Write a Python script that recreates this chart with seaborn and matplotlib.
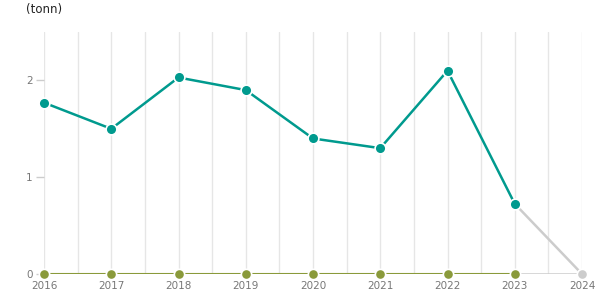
import matplotlib
matplotlib.use("Agg")
import matplotlib.pyplot as plt
import seaborn as sns
import pandas as pd

years = [2016, 2017, 2018, 2019, 2020, 2021, 2022, 2023, 2024]
series_a = [1.77, 1.50, 2.03, 1.90, 1.40, 1.30, 2.10, 0.725, 0.0]
series_b = [0, 0, 0, 0, 0, 0, 0, 0, 0]
y_ticks = [0, 1, 2]

teal = "#009a8e"
olive = "#8a9a3b"
grey = "#cccccc"

sns.set_style("white")
plt.rcParams['font.family'] = ['DejaVu Sans']

fig = plt.figure(figsize=(6.15, 3.05), dpi=100)
ax = fig.add_axes([44/615, 31/305, 538/615, 242/305])

# vertical gridlines at years and half-years
for i in range(len(years)):
    ax.axvline(years[i], color="#e6e6e6", lw=1, zorder=0)
    if i < len(years) - 1:
        ax.axvline((years[i] + years[i+1]) / 2, color="#e6e6e6", lw=1, zorder=0)

df = pd.DataFrame({"year": years, "a": series_a, "b": series_b})
final = df.iloc[-2:]
main = df.iloc[:-1]

# grey final segments
sns.lineplot(data=final, x="year", y="a", color=grey, lw=1.8, ax=ax, zorder=2)
sns.lineplot(data=final, x="year", y="b", color=grey, lw=1.8, ax=ax, zorder=2)
ax.scatter(years[-1:], series_a[-1:], s=55, color=grey, edgecolor="white", lw=1.2, zorder=5, clip_on=False)

sns.lineplot(data=main, x="year", y="b", color=olive, lw=1.5, ax=ax, zorder=3)
sns.lineplot(data=main, x="year", y="a", color=teal, lw=1.8, ax=ax, zorder=4)
ax.scatter(main["year"], main["b"], s=55, color=olive, edgecolor="white", lw=1.2, zorder=5, clip_on=False)
ax.scatter(main["year"], main["a"], s=60, color=teal, edgecolor="white", lw=1.2, zorder=6, clip_on=False)

ax.set_xlim(2016, 2024)
ax.set_ylim(0, 2.5)
ax.set_yticks(y_ticks)
ax.set_yticklabels([str(t) for t in y_ticks])
ax.set_xticks(years)
ax.set_xticklabels([str(y) for y in years])
ax.tick_params(axis="y", length=6, width=1, color="#cccccc", labelsize=7.5, labelcolor="#777777", pad=2, left=True)
ax.tick_params(axis="x", length=0, labelsize=7.5, labelcolor="#777777", pad=5)
ax.set_xlabel("")
ax.set_ylabel("")
for s in ax.spines.values():
    s.set_visible(False)

fig.text(26/615, 1 - 9/305, "(tonn)", fontsize=8.5, color="#222222", va="center", ha="left")

fig.savefig("out.png", dpi=100)
